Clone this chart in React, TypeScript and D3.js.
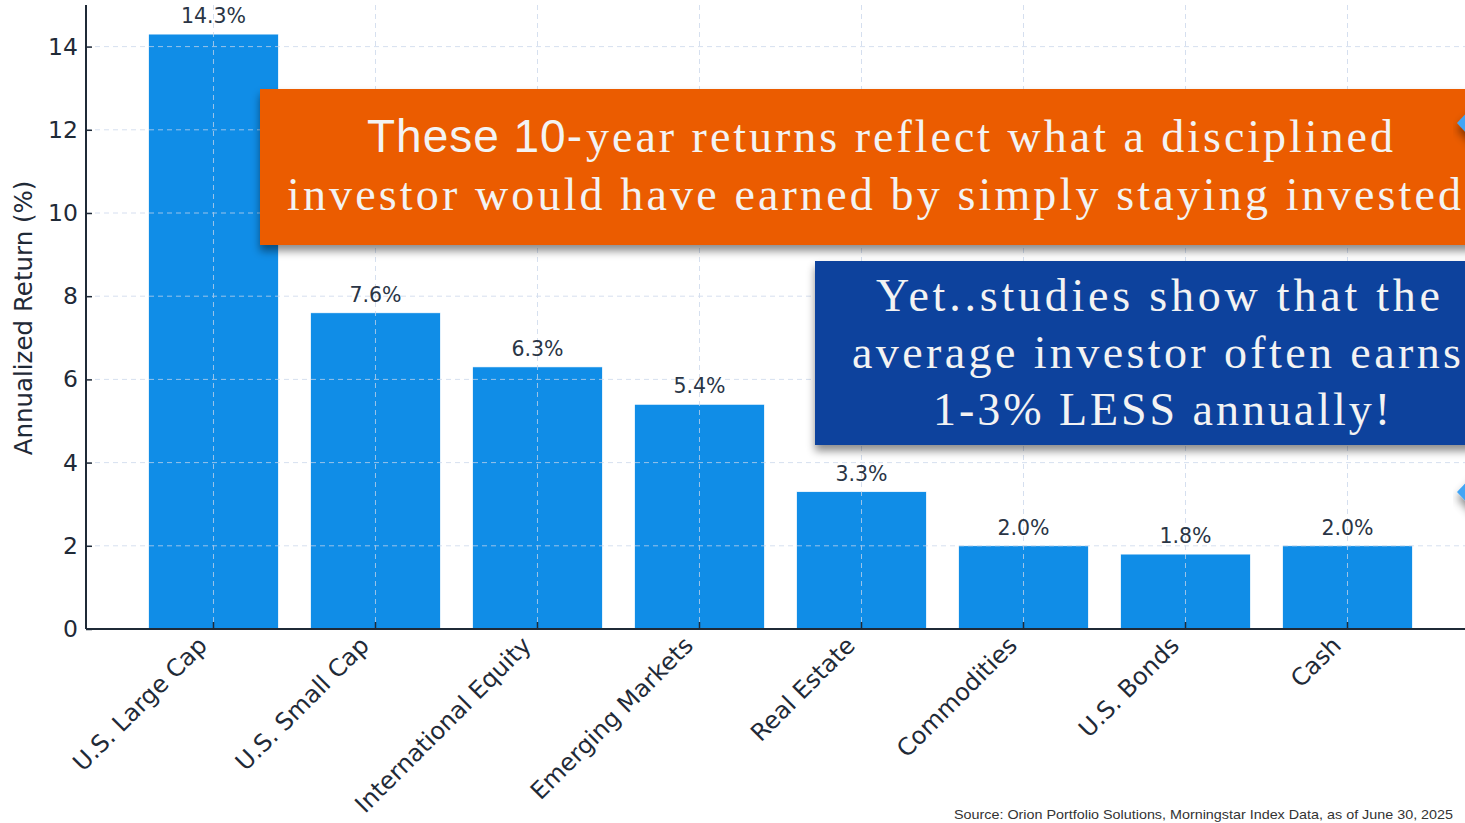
import { useEffect, useRef } from 'react';
import * as d3 from 'd3';

// Asset classes and their 10-year annualized returns (%)
const categories = [
  'U.S. Large Cap',
  'U.S. Small Cap',
  'International Equity',
  'Emerging Markets',
  'Real Estate',
  'Commodities',
  'U.S. Bonds',
  'Cash',
];
const returns = [14.3, 7.6, 6.3, 5.4, 3.3, 2.0, 1.8, 2.0];
const yTicks = [0, 2, 4, 6, 8, 10, 12, 14];

const orangeLines = [
  { sans: 'These 10-', serif: 'year returns reflect what a disciplined' },
  { sans: '', serif: 'investor would have earned by simply staying invested' },
];
const blueLines = [
  'Yet..studies show that the',
  'average investor often earns',
  '1-3% LESS annually!',
];
const sourceNote = 'Source: Orion Portfolio Solutions, Morningstar Index Data, as of June 30, 2025';

export default function App() {
  const svgRef = useRef<SVGSVGElement | null>(null);

  useEffect(() => {
    if (!svgRef.current) return;
    const W = 1465;
    const H = 823;
    const svg = d3.select(svgRef.current);
    svg.selectAll('*').remove();
    svg.attr('width', W).attr('height', H);

    const axisColor = '#1f2a37';
    const gridColor = '#c8d5ea';
    const barColor = '#108de7';

    const left = 86;
    const bottom = 629;
    const top = 5;

    // Scales
    const x = d3.scaleBand<string>()
      .domain(categories)
      .range([left, 1475])
      .paddingInner(0.2)
      .paddingOuter(0.387);
    const y = d3.scaleLinear().domain([0, 15]).range([bottom, top]);

    const defs = svg.append('defs');
    const shadow = defs.append('filter')
      .attr('id', 'box-shadow')
      .attr('x', '-10%').attr('y', '-20%')
      .attr('width', '120%').attr('height', '150%');
    shadow.append('feDropShadow')
      .attr('dx', 0).attr('dy', 6)
      .attr('stdDeviation', 4)
      .attr('flood-color', '#000')
      .attr('flood-opacity', 0.45);

    // Bars
    svg.append('g')
      .selectAll('rect')
      .data(returns)
      .enter()
      .append('rect')
      .attr('x', (_, i) => x(categories[i])!)
      .attr('y', d => y(d))
      .attr('width', x.bandwidth())
      .attr('height', d => y(0) - y(d))
      .attr('fill', barColor)
      .attr('stroke', '#ffffff')
      .attr('stroke-width', 0.6);

    // Grid (drawn over the bars, like the original)
    const grid = svg.append('g')
      .attr('stroke', gridColor)
      .attr('stroke-width', 1)
      .attr('stroke-dasharray', '5,4')
      .attr('opacity', 0.75);
    yTicks.filter(t => t > 0).forEach(t => {
      grid.append('line')
        .attr('x1', left).attr('x2', W)
        .attr('y1', y(t)).attr('y2', y(t));
    });
    categories.forEach(c => {
      const cx = x(c)! + x.bandwidth() / 2;
      grid.append('line')
        .attr('x1', cx).attr('x2', cx)
        .attr('y1', top).attr('y2', bottom);
    });

    // Value labels
    svg.append('g')
      .selectAll('text')
      .data(returns)
      .enter()
      .append('text')
      .attr('x', (_, i) => x(categories[i])! + x.bandwidth() / 2)
      .attr('y', d => y(d) - 11)
      .attr('text-anchor', 'middle')
      .style('font-family', 'DejaVu Sans')
      .style('font-size', '20.5px')
      .attr('fill', '#2a3545')
      .text(d => `${d.toFixed(1)}%`);

    // Y axis
    const yAxis = svg.append('g')
      .attr('transform', `translate(${left},0)`)
      .call(d3.axisLeft(y).tickValues(yTicks).tickSize(-6).tickPadding(8).tickFormat(d3.format('d')));
    yAxis.select('.domain').attr('stroke', axisColor).attr('stroke-width', 2)
      .attr('d', `M0,${top}V${bottom}`);
    yAxis.selectAll('.tick line').attr('stroke', axisColor).attr('stroke-width', 1.5);
    yAxis.selectAll('.tick text')
      .style('font-family', 'DejaVu Sans')
      .style('font-size', '23.5px')
      .attr('fill', axisColor);

    // X axis
    const xAxis = svg.append('g')
      .attr('transform', `translate(0,${bottom})`)
      .call(d3.axisBottom(x).tickSize(-7).tickPadding(10));
    xAxis.select('.domain').attr('stroke', axisColor).attr('stroke-width', 2)
      .attr('d', `M${left},0H${W}`);
    xAxis.selectAll('.tick line').attr('stroke', axisColor).attr('stroke-width', 1.5);
    xAxis.selectAll('.tick text')
      .style('font-family', 'DejaVu Sans')
      .style('font-size', '24px')
      .attr('fill', axisColor)
      .attr('text-anchor', 'end')
      .attr('x', 0)
      .attr('y', 0)
      .attr('dy', 0)
      .attr('transform', 'translate(-5,18) rotate(-45)');

    // Y axis title
    svg.append('text')
      .attr('transform', `translate(32,318) rotate(-90)`)
      .attr('text-anchor', 'middle')
      .style('font-family', 'DejaVu Sans')
      .style('font-size', '24.5px')
      .attr('fill', axisColor)
      .text('Annualized Return (%)');

    // Source note
    svg.append('text')
      .attr('x', 954)
      .attr('y', 819)
      .attr('textLength', 499)
      .attr('lengthAdjust', 'spacingAndGlyphs')
      .style('font-family', 'Liberation Sans')
      .style('font-size', '13.5px')
      .attr('fill', '#333')
      .text(sourceNote);

    // Orange callout
    const textColor = '#f3f3f3';
    svg.append('rect')
      .attr('x', 260).attr('y', 89)
      .attr('width', W - 260 + 20).attr('height', 156)
      .attr('fill', '#eb5c00')
      .attr('filter', 'url(#box-shadow)');
    svg.append('text')
      .attr('x', 367).attr('y', 152)
      .attr('textLength', 215)
      .style('font-family', 'Liberation Sans')
      .style('font-size', '46px')
      .attr('fill', textColor)
      .text(orangeLines[0].sans);
    svg.append('text')
      .attr('x', 586).attr('y', 152)
      .attr('textLength', 807)
      .attr('lengthAdjust', 'spacing')
      .style('font-family', 'Liberation Serif')
      .style('font-size', '46px')
      .attr('fill', textColor)
      .text(orangeLines[0].serif);
    svg.append('text')
      .attr('x', 287).attr('y', 210)
      .attr('textLength', 1174)
      .attr('lengthAdjust', 'spacing')
      .style('font-family', 'Liberation Serif')
      .style('font-size', '46px')
      .attr('fill', textColor)
      .text(orangeLines[1].serif);

    // Blue callout
    svg.append('rect')
      .attr('x', 815).attr('y', 261)
      .attr('width', W - 815 + 20).attr('height', 184)
      .attr('fill', '#0c439d')
      .attr('filter', 'url(#box-shadow)');
    const blueSpans = [
      { x: 876, len: 564, base: 311 },
      { x: 852, len: 609, base: 368 },
      { x: 933, len: 457, base: 425 },
    ];
    blueLines.forEach((line, i) => {
      svg.append('text')
        .attr('x', blueSpans[i].x).attr('y', blueSpans[i].base)
        .attr('textLength', blueSpans[i].len)
        .attr('lengthAdjust', 'spacing')
        .style('font-family', 'Liberation Serif')
        .style('font-size', '46px')
        .attr('fill', textColor)
        .text(line);
    });

    // Decorative light-blue diamonds peeking in at the right edge
    [123, 492].forEach(cy => {
      svg.append('path')
        .attr('d', `M1457,${cy}L1474,${cy - 18}L1491,${cy}L1474,${cy + 18}Z`)
        .attr('fill', '#42a5f5')
        .attr('filter', 'url(#box-shadow)');
    });
  }, []);

  return (
    <div style={{ position: 'fixed', left: 0, top: 0, width: 1465, height: 823, overflow: 'hidden', background: '#fff' }}>
      <svg ref={svgRef} style={{ display: 'block' }}></svg>
    </div>
  );
}
